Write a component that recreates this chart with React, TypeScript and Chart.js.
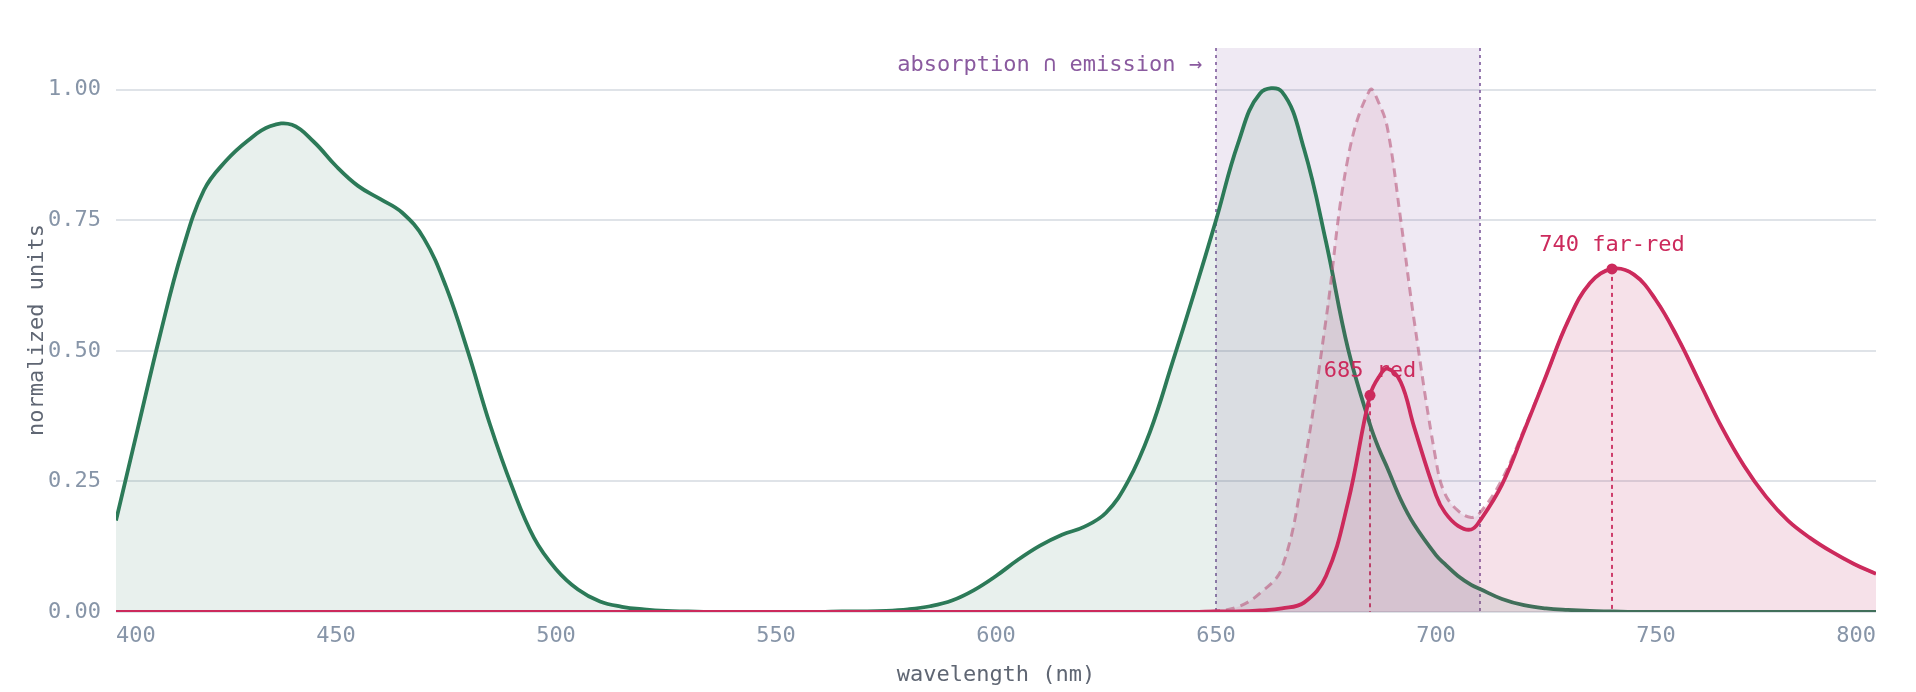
import React, { useEffect, useRef } from 'react';
import { Chart, registerables } from 'chart.js';

// Register all Chart.js components
Chart.register(...registerables);

// Wavelength grid shared by all spectra (nm)
const wavelengths = [
  400, 405, 410, 415, 420, 425, 430, 435, 440, 445,
  450, 455, 460, 465, 470, 475, 480, 485, 490, 495,
  500, 505, 510, 515, 520, 525, 530, 535, 540, 545,
  550, 555, 560, 565, 570, 575, 580, 585, 590, 595,
  600, 605, 610, 615, 620, 625, 630, 635, 640, 645,
  650, 655, 660, 665, 670, 675, 680, 685, 687, 689,
  692, 695, 700, 702, 705, 708, 710, 715, 720, 725,
  730, 735, 740, 745, 750, 755, 760, 765, 770, 775,
  780, 785, 790, 795, 800,
];

// Chlorophyll-like absorption (green)
const absorption = [
  0.175, 0.353, 0.53, 0.69, 0.808, 0.864, 0.903, 0.93, 0.933, 0.9,
  0.854, 0.816, 0.791, 0.765, 0.715, 0.623, 0.498, 0.359, 0.24, 0.142,
  0.082, 0.043, 0.02, 0.01, 0.005, 0.002, 0.001, 0, 0, 0,
  0, 0, 0, 0.001, 0.001, 0.002, 0.005, 0.011, 0.022, 0.042,
  0.069, 0.1, 0.127, 0.148, 0.163, 0.19, 0.25, 0.345, 0.475, 0.61,
  0.75, 0.897, 0.993, 0.996, 0.887, 0.709, 0.504, 0.359, 0.313, 0.275,
  0.215, 0.168, 0.109, 0.092, 0.069, 0.052, 0.044, 0.025, 0.013, 0.007,
  0.004, 0.002, 0.001, 0, 0, 0, 0, 0, 0, 0,
  0, 0, 0, 0, 0,
];

// Fluorescence emission (solid crimson)
const emission = [
  0, 0, 0, 0, 0, 0, 0, 0, 0, 0,
  0, 0, 0, 0, 0, 0, 0, 0, 0, 0,
  0, 0, 0, 0, 0, 0, 0, 0, 0, 0,
  0, 0, 0, 0, 0, 0, 0, 0, 0, 0,
  0, 0, 0, 0, 0, 0, 0, 0, 0, 0,
  0.001, 0.001, 0.003, 0.007, 0.018, 0.069, 0.21, 0.415, 0.45, 0.466,
  0.44, 0.355, 0.224, 0.191, 0.165, 0.158, 0.175, 0.244, 0.346, 0.452,
  0.557, 0.63, 0.657, 0.646, 0.597, 0.524, 0.438, 0.353, 0.28, 0.221,
  0.175, 0.142, 0.115, 0.092, 0.073,
];

// Emission without reabsorption (dashed)
const emissionRaw = [
  0, 0, 0, 0, 0, 0, 0, 0, 0, 0,
  0, 0, 0, 0, 0, 0, 0, 0, 0, 0,
  0, 0, 0, 0, 0, 0, 0, 0, 0, 0,
  0, 0, 0, 0, 0, 0, 0, 0, 0, 0,
  0, 0, 0, 0, 0, 0, 0, 0, 0, 0,
  0.002, 0.01, 0.036, 0.085, 0.28, 0.56, 0.87, 1.0, 0.975, 0.925,
  0.75, 0.56, 0.29, 0.227, 0.194, 0.181, 0.19, 0.254, 0.35, 0.452,
  0.557, 0.63, 0.657, 0.646, 0.597, 0.524, 0.438, 0.353, 0.28, 0.221,
  0.175, 0.142, 0.115, 0.092, 0.073,
];

// Marked emission peaks
const peakWavelengths = [685, 740];
const peakValues = [0.415, 0.657];
const peakLabels = ['685 red', '740 far-red'];

// Overlap band
const overlapBand = [650, 710];
const overlapLabel = 'absorption ∩ emission →';

const yTicks = [0, 0.25, 0.5, 0.75, 1.0];

const GREEN = '#2c7a58';
const RED = '#cc2a5c';
const PURPLE = '#7d5a9c';
const TICK = '#8795a8';
const TITLE = '#5f6673';
const MONO = "'DejaVu Sans Mono', monospace";

const toPoints = (values: number[]) => wavelengths.map((w, i) => ({ x: w, y: values[i] }));

const overlayPlugin = {
  id: 'spectrumOverlay',
  beforeDatasetsDraw(chart: any) {
    const { ctx, chartArea, scales } = chart;
    const x = scales.x;
    const y = scales.y;
    const bx0 = x.getPixelForValue(overlapBand[0]);
    const bx1 = x.getPixelForValue(overlapBand[1]);
    ctx.save();
    ctx.fillStyle = 'rgba(120, 75, 160, 0.12)';
    ctx.fillRect(bx0, chartArea.top, bx1 - bx0, chartArea.bottom - chartArea.top);

    // band edges
    ctx.strokeStyle = PURPLE;
    ctx.lineWidth = 1.6;
    ctx.setLineDash([3, 4]);
    [bx0, bx1].forEach((px) => {
      ctx.beginPath();
      ctx.moveTo(px, chartArea.top);
      ctx.lineTo(px, chartArea.bottom);
      ctx.stroke();
    });

    // drop lines from the marked peaks
    ctx.strokeStyle = RED;
    ctx.lineWidth = 1.8;
    ctx.setLineDash([4, 4]);
    peakWavelengths.forEach((w, i) => {
      const px = x.getPixelForValue(w);
      ctx.beginPath();
      ctx.moveTo(px, y.getPixelForValue(peakValues[i]));
      ctx.lineTo(px, y.getPixelForValue(0));
      ctx.stroke();
    });
    ctx.restore();
  },
  afterDatasetsDraw(chart: any) {
    const { ctx, chartArea, scales } = chart;
    const x = scales.x;
    const y = scales.y;
    ctx.save();
    ctx.font = `22px ${MONO}`;
    ctx.textBaseline = 'alphabetic';

    ctx.fillStyle = '#8a5a9f';
    ctx.textAlign = 'right';
    ctx.fillText(overlapLabel, x.getPixelForValue(overlapBand[0]) - 14, chartArea.top + 23);

    ctx.fillStyle = RED;
    ctx.textAlign = 'center';
    peakWavelengths.forEach((w, i) => {
      ctx.fillText(peakLabels[i], x.getPixelForValue(w), y.getPixelForValue(peakValues[i]) - 18);
    });
    ctx.restore();
  },
};

const SpectrumChart: React.FC = () => {
  const chartRef = useRef<HTMLCanvasElement>(null);
  const chartInstance = useRef<Chart | null>(null);

  useEffect(() => {
    if (!chartRef.current) return;
    const ctx = chartRef.current.getContext('2d');
    if (!ctx) return;

    chartInstance.current = new Chart(ctx, {
      type: 'line',
      data: {
        datasets: [
          {
            label: 'peaks',
            data: peakWavelengths.map((w, i) => ({ x: w, y: peakValues[i] })),
            showLine: false,
            pointRadius: 5.5,
            pointBackgroundColor: RED,
            pointBorderWidth: 0,
            fill: false,
            order: 0,
          },
          {
            label: 'emission',
            data: toPoints(emission),
            borderColor: RED,
            borderWidth: 3.8,
            backgroundColor: 'rgba(204, 42, 92, 0.05)',
            fill: 'origin',
            pointRadius: 0,
            tension: 0.4,
            order: 1,
          },
          {
            label: 'emission (no reabsorption)',
            data: toPoints(emissionRaw),
            borderColor: 'rgba(185, 90, 125, 0.6)',
            borderWidth: 3,
            borderDash: [9, 6],
            backgroundColor: 'rgba(190, 60, 110, 0.1)',
            fill: 'origin',
            pointRadius: 0,
            tension: 0.4,
            order: 2,
          },
          {
            label: 'absorption',
            data: toPoints(absorption),
            borderColor: GREEN,
            borderWidth: 3.8,
            backgroundColor: 'rgba(44, 122, 88, 0.11)',
            fill: 'origin',
            pointRadius: 0,
            tension: 0.4,
            order: 3,
          },
        ],
      },
      options: {
        responsive: true,
        maintainAspectRatio: false,
        animation: false,
        layout: {
          padding: { top: 48, right: 40, bottom: 0, left: 16 },
        },
        plugins: {
          legend: { display: false },
          tooltip: { enabled: false },
        },
        scales: {
          x: {
            type: 'linear',
            min: 400,
            max: 800,
            afterFit: (scale: any) => {
              scale.height = 80;
            },
            grid: { display: false, drawTicks: false },
            border: { display: false },
            ticks: {
              stepSize: 50,
              align: 'inner',
              padding: 11,
              color: TICK,
              font: { family: MONO, size: 22 },
              callback: (v: any) => String(v),
            },
            title: {
              display: true,
              text: 'wavelength (nm)',
              color: TITLE,
              font: { family: MONO, size: 22 },
              padding: { top: 0, bottom: 4 },
            },
          },
          y: {
            min: 0,
            max: 1.08,
            afterBuildTicks: (scale: any) => {
              scale.ticks = yTicks.map((v) => ({ value: v }));
            },
            afterFit: (scale: any) => {
              scale.width = 100;
            },
            grid: { color: '#dfe3e8', lineWidth: 2, drawTicks: false },
            border: { display: false },
            ticks: {
              padding: 15,
              color: TICK,
              font: { family: MONO, size: 22 },
              callback: (v: any) => Number(v).toFixed(2),
            },
            title: {
              display: true,
              text: 'normalized units',
              color: TITLE,
              font: { family: MONO, size: 22 },
              padding: { top: 8, bottom: 0 },
            },
          },
        },
      },
      plugins: [overlayPlugin],
    });

    return () => {
      if (chartInstance.current) {
        chartInstance.current.destroy();
        chartInstance.current = null;
      }
    };
  }, []);

  return (
    <div style={{ position: 'fixed', left: 0, top: 0, width: 1916, height: 692, background: '#fff' }}>
      <canvas ref={chartRef} />
    </div>
  );
};

export default function App() {
  return <SpectrumChart />;
}
